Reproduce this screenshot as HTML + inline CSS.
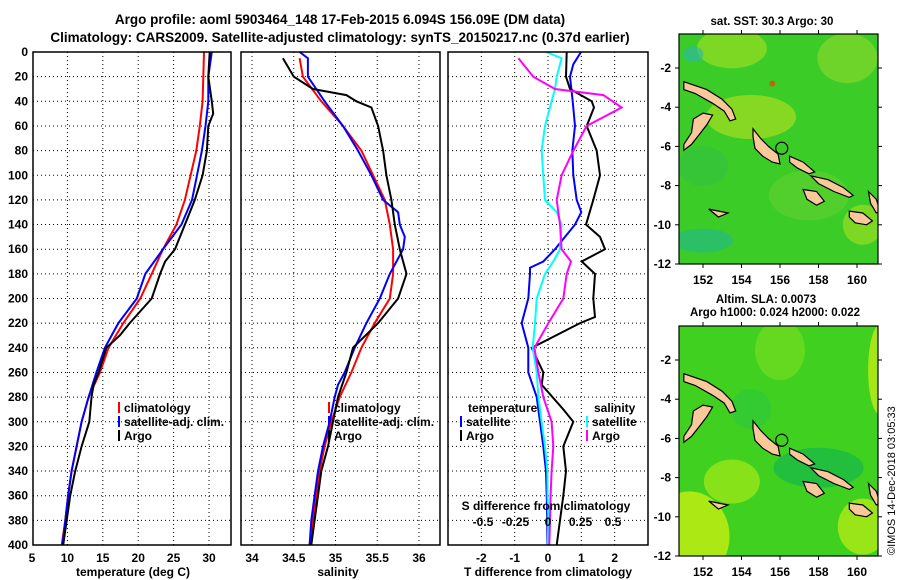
<!DOCTYPE html>
<html><head><meta charset="utf-8"><style>
body{margin:0;background:#fff;}
svg{display:block;font-family:"Liberation Sans",sans-serif;font-weight:bold;}
</style></head><body>
<svg id="c" width="900" height="580" viewBox="0 0 900 580" xmlns="http://www.w3.org/2000/svg">
<text x="340" y="24" font-size="13.5" text-anchor="middle">Argo profile: aoml 5903464_148 17-Feb-2015 6.094S 156.09E (DM data)</text>
<text x="340" y="42" font-size="13.5" text-anchor="middle">Climatology: CARS2009. Satellite-adjusted climatology: synTS_20150217.nc (0.37d earlier)</text>
<text x="772" y="25" font-size="11.5" text-anchor="middle">sat. SST: 30.3 Argo: 30</text>
<text x="766" y="303" font-size="11.5" text-anchor="middle">Altim. SLA: 0.0073</text>
<text x="775" y="316" font-size="11.5" text-anchor="middle">Argo h1000: 0.024 h2000: 0.022</text>
<text transform="translate(895,555) rotate(-90)" font-size="11" font-weight="normal">©IMOS 14-Dec-2018 03:05:33</text>
</svg>
<script>
const depths=[0,20,40,60,80,100,120,140,160,180,200,220,240,260,280,300,320,340,360,380,400];
const tClim=[29.3,29.2,29.1,28.7,28.2,27.4,26.6,25.4,23.5,21.9,20.3,17.9,15.8,14.6,13,12,11.3,10.6,10.1,9.7,9.2];
const tSat=[30.4,29.9,29.9,29.5,29,28.3,27.6,26.1,23.5,21,19.8,17.2,15.3,14.1,13,12,11.3,10.6,10.1,9.7,9.3];
const argoDepths=[0,20,40,50,60,80,100,120,140,160,170,180,200,220,230,240,260,270,280,300,320,340,360,380,400];
const tArgo=[30.1,29.9,30.4,30.6,29.9,29.7,29.1,28,26.6,25.2,23.8,23.1,21.9,18.8,17.4,15.5,14.4,13.7,13.4,13.1,12,11.1,10.4,9.9,9.4];
const sClimDepths=[5,20,40,60,80,100,120,140,160,180,200,220,240,260,280,300,320,340,360,380,400];
const sClim=[34.57,34.61,34.83,35.09,35.31,35.45,35.59,35.65,35.69,35.69,35.65,35.47,35.31,35.19,35.05,34.95,34.87,34.81,34.77,34.73,34.69];
const sSatDepths=[0,5,20,40,60,80,100,120,130,140,150,160,180,200,220,240,260,270,280,300,320,340,360,380,400];
const sSat=[34.57,34.67,34.67,34.87,35.09,35.27,35.43,35.57,35.75,35.77,35.83,35.81,35.65,35.53,35.37,35.23,35.11,35.03,34.99,34.93,34.85,34.79,34.75,34.71,34.69];
const sArgoDepths=[5,20,30,35,40,45,60,80,100,120,140,160,170,180,200,220,240,260,280,300,320,340,360,380,400];
const sArgo=[34.37,34.5,34.73,35.13,35.25,35.43,35.51,35.57,35.61,35.67,35.71,35.77,35.81,35.85,35.75,35.51,35.21,35.13,35.03,34.97,34.91,34.83,34.79,34.75,34.71];
const dTSatDepths=[0,10,20,40,60,80,100,120,130,140,150,160,170,175,180,200,220,240,260,280,300,320,340,360,380,400];
const dTSat=[0.99,0.76,0.66,0.74,0.81,0.73,0.76,0.86,1.0,0.81,0.51,0.21,-0.14,-0.54,-0.54,-0.59,-0.79,-0.59,-0.59,-0.34,-0.24,-0.14,-0.06,-0.04,-0.02,-0.02];
const dTArgoDepths=[0,20,30,40,45,60,80,100,120,140,150,160,170,180,200,215,220,240,260,270,290,300,320,340,360,380,400];
const dTArgo=[0.56,0.54,0.66,1.31,1.38,1.16,1.46,1.56,1.36,1.14,1.56,1.71,1.01,1.41,1.36,1.41,0.96,-0.49,-0.14,-0.19,0.46,0.76,0.46,0.54,0.46,0.36,0.26];
const dSSatDepths=[0,5,20,30,40,60,80,100,120,130,140,160,170,180,200,220,240,260,280,300,320,340,360,380,400];
const dSSat=[-0.015,0.105,0.067,0.054,0.028,-0.023,-0.049,-0.036,-0.023,0.067,0.105,0.092,0.041,-0.023,-0.087,-0.1,-0.118,-0.087,-0.074,-0.049,-0.023,-0.005,-0.003,0.003,-0.003];
const dSArgoDepths=[5,20,30,35,45,60,80,100,120,140,160,170,180,200,220,240,260,280,300,320,340,360,380,400];
const dSArgo=[-0.228,-0.113,0.054,0.426,0.567,0.297,0.195,0.105,0.067,0.092,0.105,0.177,0.144,0.118,0.003,-0.105,-0.074,-0.036,0.028,0.041,0.028,0.02,0.015,0.01];
const depthTicks=[0,20,40,60,80,100,120,140,160,180,200,220,240,260,280,300,320,340,360,380,400];
const tTicks=[5,10,15,20,25,30];
const sTicks=[34,34.5,35,35.5,36];
const dTTicks=[-2,-1,0,1,2];
const dSTicks=[-0.5,-0.25,0,0.25,0.5];
const lonTicks=[152,154,156,158,160];
const latTicks=[-2,-4,-6,-8,-10,-12];

const svg=document.getElementById('c');const NS='http://www.w3.org/2000/svg';
function el(t,a,p){const e=document.createElementNS(NS,t);for(const k in a)e.setAttribute(k,a[k]);(p||svg).appendChild(e);return e;}
const Y0=52,Y1=545;
const yD=d=>Y0+(Y1-Y0)*d/400;
const xT=v=>32+(v-5)*7.08;
const xS=v=>252+(v-34)*83.5;
const xDT=v=>548+v*33.33;
const xDS=v=>548+v*130;

function frame(x0,x1,name){
  const g=el('g',{});
  depthTicks.forEach(d=>{if(d>0&&d<400){const l=el('line',{x1:x0,x2:x1,y1:yD(d),y2:yD(d),stroke:'#000','stroke-width':1,'stroke-dasharray':'1,3'},g);}});
  return g;
}
function vgrid(g,ticks,fx){ticks.forEach(v=>{const l=el('line',{x1:fx(v),x2:fx(v),y1:Y0,y2:Y1,stroke:'#000','stroke-width':1,'stroke-dasharray':'1,3'},g);});}
function box(g,x0,x1){const r=el('rect',{x:x0,y:Y0,width:x1-x0,height:Y1-Y0,fill:'none',stroke:'#000','stroke-width':1.5},g);}
function line(g,xs,ds,fx,col,name){const pts=xs.map((v,i)=>fx(v).toFixed(1)+','+yD(ds[i]).toFixed(1)).join(' ');const p=el('polyline',{points:pts,fill:'none',stroke:col,'stroke-width':2},g);}
function xlabels(g,ticks,fx,y){ticks.forEach(v=>{const t=el('text',{x:fx(v),y:y,'font-size':12,'text-anchor':'middle'},g);t.textContent=String(v);});}
function txt(g,x,y,s,name,size,anchor){const t=el('text',{x:x,y:y,'font-size':size||12,'text-anchor':anchor||'start'},g);t.textContent=s;return t;}
function legend(g,x,y,col,label){const l=el('line',{x1:x,x2:x,y1:y-10,y2:y+1,stroke:col,'stroke-width':2},g);txt(g,x+5,y,label,'legend-entry');}

// Panel 1
const g1=frame(33,231,'temperature-panel');vgrid(g1,tTicks.slice(1),xT);
line(g1,tClim,depths,xT,'#f00','temp-climatology-line');
line(g1,tSat,depths,xT,'#00f','temp-satellite-line');
line(g1,tArgo,argoDepths,xT,'#000','temp-argo-line');
box(g1,33,231);
depthTicks.forEach(d=>{const t=el('text',{x:28,y:yD(d)+4,'font-size':12,'text-anchor':'end'},g1);t.textContent=String(d);});
xlabels(g1,tTicks,xT,562);
txt(g1,133,576,'temperature (deg C)','x-axis-title',12,'middle');
legend(g1,119,412,'#f00','climatology');legend(g1,119,426,'#00f','satellite-adj. clim.');legend(g1,119,440,'#000','Argo');

// Panel 2
const g2=frame(241,440,'salinity-panel');vgrid(g2,sTicks,xS);
line(g2,sClim,sClimDepths,xS,'#f00','sal-climatology-line');
line(g2,sSat,sSatDepths,xS,'#00f','sal-satellite-line');
line(g2,sArgo,sArgoDepths,xS,'#000','sal-argo-line');
box(g2,241,440);
xlabels(g2,sTicks,xS,562);
txt(g2,338,576,'salinity','x-axis-title',12,'middle');
legend(g2,329,412,'#f00','climatology');legend(g2,329,426,'#00f','satellite-adj. clim.');legend(g2,329,440,'#000','Argo');

// Panel 3
const g3=frame(448,648,'difference-panel');vgrid(g3,dTTicks,xDT);
line(g3,dTSat,dTSatDepths,xDT,'#00f','dT-satellite-line');
line(g3,dTArgo,dTArgoDepths,xDT,'#000','dT-argo-line');
line(g3,dSSat,dSSatDepths,xDS,'#0ff','dS-satellite-line');
line(g3,dSArgo,dSArgoDepths,xDS,'#f0f','dS-argo-line');
box(g3,448,648);
xlabels(g3,dTTicks,xDT,562);
txt(g3,548,576,'T difference from climatology','x-axis-title',12,'middle');
txt(g3,546,510,'S difference from climatology','s-axis-title',12,'middle');
xlabels(g3,dSTicks,xDS,526);
txt(g3,468,412,'temperature','legend-title');txt(g3,594,412,'salinity','legend-title');
legend(g3,461,426,'#00f','satellite');legend(g3,461,440,'#000','Argo');
legend(g3,587,426,'#0ff','satellite');legend(g3,587,440,'#f0f','Argo');

// Maps
const islands=[
 [[151,-2.7],[152.2,-3.1],[153,-3.6],[153.5,-4.1],[153.7,-4.6],[153.4,-4.7],[153.1,-4.2],[152.5,-3.8],[151.6,-3.3],[151,-3.1]],
 [[151,-5.9],[151.4,-5.3],[151.5,-4.6],[152,-4.3],[152.5,-4.4],[152.2,-4.9],[151.8,-5.4],[151.4,-5.9],[151,-6.2]],
 [[154.6,-5.1],[155,-5.6],[155.4,-6],[155.9,-6.4],[156,-6.9],[155.6,-6.8],[155.1,-6.5],[154.7,-6.1],[154.6,-5.5]],
 [[156.5,-6.5],[157.2,-6.8],[157.8,-7.3],[157.5,-7.4],[156.9,-7.1],[156.5,-6.8]],
 [[157.6,-7.5],[158.5,-7.7],[159.3,-8.1],[159.8,-8.5],[159.6,-8.6],[158.8,-8.3],[158,-7.9]],
 [[157.2,-8.2],[157.9,-8.3],[158.3,-8.8],[157.9,-9],[157.4,-8.7]],
 [[159.6,-9.3],[160.3,-9.4],[160.8,-9.8],[160.5,-10],[159.9,-9.9],[159.6,-9.6]],
 [[160.6,-8.3],[161,-8.7],[161.2,-9.3],[161,-9.4],[160.7,-8.9]],
 [[152.3,-9.2],[153.3,-9.4],[152.8,-9.6]]
];
function map(top,name,bg){
  const x0=679,x1=878,lat2y=top+34,latStep=19.6;
  const fx=lon=>703+(lon-152)*19.25, fy=lat=>lat2y+(-2-lat)*latStep;
  const bot=fy(-12);
  const g=el('g',{});
  const cp=el('clipPath',{id:name+'-clip'},g);el('rect',{x:x0,y:top,width:x1-x0,height:bot-top},cp);
  const inner=el('g',{'clip-path':'url(#'+name+'-clip)'},g);
  const r=el('rect',{x:x0,y:top,width:x1-x0,height:bot-top,fill:bg},inner);
  return {g,inner,fx,fy,x0,x1,top,bot};
}
function finishMap(m){
  islands.forEach(isl=>{const p=el('polygon',{points:isl.map(q=>m.fx(q[0]).toFixed(1)+','+m.fy(q[1]).toFixed(1)).join(' '),fill:'#fbc89c',stroke:'#000','stroke-width':1.2},m.inner);});
  const c=el('circle',{cx:m.fx(156.09),cy:m.fy(-6.094),r:6,fill:'none',stroke:'#000','stroke-width':1.2},m.g);
  const b=el('rect',{x:m.x0,y:m.top,width:m.x1-m.x0,height:m.bot-m.top,fill:'none',stroke:'#000','stroke-width':1.2},m.g);
  lonTicks.forEach(v=>{el('line',{x1:m.fx(v),x2:m.fx(v),y1:m.top,y2:m.top-4,stroke:'#000'},m.g);el('line',{x1:m.fx(v),x2:m.fx(v),y1:m.bot,y2:m.bot+4,stroke:'#000'},m.g);txt(m.g,m.fx(v),m.bot+20,String(v),'lon-tick-label',12,'middle');});
  latTicks.forEach(v=>{el('line',{x1:m.x0,x2:m.x0-4,y1:m.fy(v),y2:m.fy(v),stroke:'#000'},m.g);el('line',{x1:m.x1,x2:m.x1+4,y1:m.fy(v),y2:m.fy(v),stroke:'#000'},m.g);txt(m.g,m.x0-8,m.fy(v)+4,String(v),'lat-tick-label',12,'end');});
}
const m1=map(34,'sst-map','#3ccc28');
[[153.5,-1,'#a8e020',35,20],[154.5,-4.5,'#b8e020',45,22],[151.5,-1.3,'#2ab8b0',10,8],[155.6,-2.8,'#ff2a00',3,3],[159.5,-1.5,'#90d82a',30,25],[160.3,-10,'#a8e020',20,20],[152,-10.8,'#20b890',30,12],[157.5,-8.5,'#60d030',40,25],[152,-7,'#30c040',25,20]].forEach(p=>{const e=el('ellipse',{cx:m1.fx(p[0]),cy:m1.fy(p[1]),rx:p[3],ry:p[4],fill:p[2],opacity:0.6},m1.inner);});
finishMap(m1);
const m2=map(326,'sla-map','#40d020');
[[151.3,-11,'#d0f010',40,45],[161.2,-2.5,'#c8ee10',12,45],[153.5,-8.2,'#a0e818',28,22],[160.3,-10.5,'#b8ec14',25,28],[158,-7.5,'#18b848',45,20],[156,-1.5,'#70dc20',25,30],[154.5,-4.5,'#30c838',20,20]].forEach(p=>{const e=el('ellipse',{cx:m2.fx(p[0]),cy:m2.fy(p[1]),rx:p[3],ry:p[4],fill:p[2],opacity:0.75},m2.inner);});
finishMap(m2);
</script>
</body></html>
